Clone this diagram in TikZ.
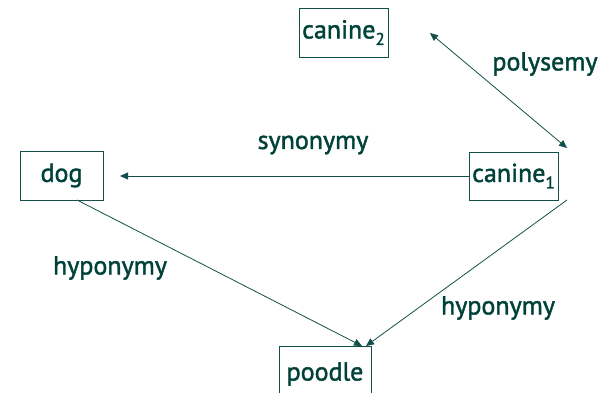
\documentclass[tikz,border=0pt]{standalone}
\usepackage{fontspec}
\setmainfont[FakeBold=1.6]{PT Sans}
\usetikzlibrary{arrows.meta}
\definecolor{tealtext}{RGB}{0,66,58}
\definecolor{tealline}{RGB}{20,80,74}
\newcommand{\sbs}[1]{\raisebox{-0.25em}{\fontsize{17}{17}\selectfont #1}}
\tikzset{
  wbox/.style={draw=tealline, line width=0.9pt, text=tealtext, inner sep=0pt, font=\fontsize{26}{28}\selectfont},
  lbl/.style={text=tealtext, font=\fontsize{26}{28}\selectfont},
  conn/.style={draw=tealline, line width=0.8pt, -{Triangle[length=8pt,width=7pt]}},
}
\begin{document}
\begin{tikzpicture}[x=1pt,y=-1pt]
\useasboundingbox (0,0) rectangle (605,393);
\node[wbox, minimum width=89pt, minimum height=49pt] (c2) at (343.5,32.5) {canine\sbs{2}};
\node[wbox, minimum width=89pt, minimum height=48pt] (c1) at (513.5,176) {canine\sbs{1}};
\node[wbox, minimum width=83pt, minimum height=49pt] (dog) at (61.5,175.5) {dog};
\node[wbox, minimum width=92pt, minimum height=60pt, anchor=north] (poo) at (325,346) {};
\node[lbl] (pootxt) at (325,374) {poodle};
\coordinate (p2) at (430,33);
\coordinate (p1) at (567,148);
\coordinate (dogend) at (120,176);
\coordinate (c1b) at (567,200);
\coordinate (dogb) at (77,200);
\draw[conn] (c1.west) -- (dogend);
\draw[conn, {Triangle[length=8pt,width=7pt]}-{Triangle[length=8pt,width=7pt]}] (p2) -- (p1);
\draw[conn] (dogb) -- (362,346);
\draw[conn] (c1b) -- (366,346);
\node[lbl] (lpoly) at (545,64) {polysemy};
\node[lbl] (lsyn) at (313,145) {synonymy};
\node[lbl] (lhyp1) at (110,268) {hyponymy};
\node[lbl] (lhyp2) at (498,308) {hyponymy};
\end{tikzpicture}
\end{document}
